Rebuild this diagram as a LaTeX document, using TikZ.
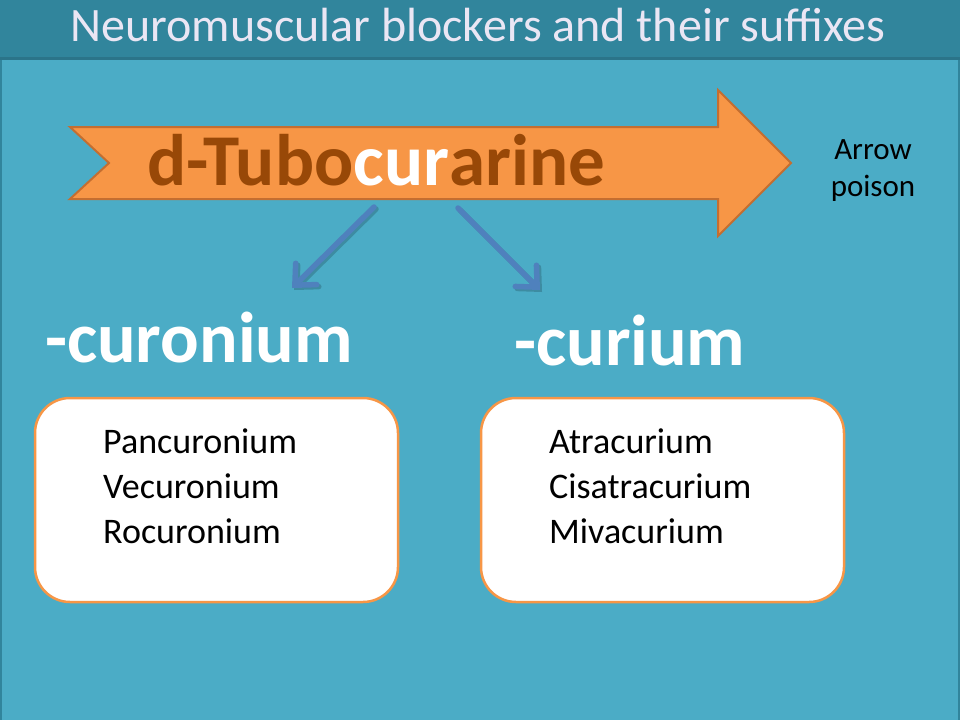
\documentclass[tikz,border=0pt]{standalone}
\usepackage{fontspec}
\setmainfont{Carlito}
\usetikzlibrary{arrows.meta}
\definecolor{titlebar}{RGB}{49,133,156}
\definecolor{slidebg}{RGB}{75,172,198}
\definecolor{titletext}{RGB}{234,230,244}
\definecolor{arrowfill}{RGB}{247,150,70}
\definecolor{arrowline}{RGB}{196,110,48}
\definecolor{brown}{RGB}{152,72,7}
\definecolor{linkblue}{RGB}{79,129,189}
\tikzset{
  bigword/.style={font=\fontsize{73}{80}\selectfont\bfseries, inner sep=0pt, anchor=base west},
  listtext/.style={font=\fontsize{36}{45}\selectfont, inner sep=0pt, anchor=base west, align=left},
  listbox/.style={draw=arrowfill, line width=2.5pt, fill=white, rounded corners=35pt},
  link/.style={draw=linkblue, line width=5.5pt, line cap=round, line join=round,
    -{Straight Barb[length=16pt,width=30pt,line cap=round]}},
  linkshadow/.style={link, draw=black, opacity=0.18},
}
\begin{document}
\begin{tikzpicture}[x=1pt,y=-1pt]
\useasboundingbox (0,0) rectangle (960,720);
% background
\fill[titlebar] (0,0) rectangle (960,720);
\fill[slidebg] (2,60) rectangle (958,720);
\fill[black,opacity=0.12] (0,57) rectangle (960,60);
% title
\node[font=\fontsize{48}{52}\selectfont, text=titletext, inner sep=0pt, anchor=base] (title) at (478,41) {Neuromuscular blockers and their suffixes};
% big notched arrow
\draw[fill=arrowfill, draw=arrowline, line width=2pt, line join=miter]
  (70,127) -- (718,127) -- (718,90) -- (791,163) -- (718,236) -- (718,199) -- (70,199) -- (109,163) -- cycle;
\node[bigword, text=brown] (parent) at (147,185) {d-Tubo{\color{white}cur}arine};
% arrow poison
\node[font=\fontsize{31}{37}\selectfont, align=center, inner sep=0pt] (poison) at (873,171) {Arrow\\poison};
% connectors
\coordinate (s1) at (374,207);
\coordinate (e1) at (292,288);
\coordinate (s2) at (458,208);
\coordinate (e2) at (540,290);
\draw[linkshadow] ([shift={(2,2)}]s1) -- ([shift={(2,2)}]e1);
\draw[linkshadow] ([shift={(2,2)}]s2) -- ([shift={(2,2)}]e2);
\draw[link] (s1) -- (e1);
\draw[link] (s2) -- (e2);
% suffix headings
\node[bigword, font=\fontsize{72}{80}\selectfont\bfseries, text=white] (suf1) at (45,362) {-curonium};
\node[bigword, font=\fontsize{72}{80}\selectfont\bfseries, text=white] (suf2) at (514,365) {-curium};
% boxes
\draw[listbox] (35,398) rectangle (398,602);
\node[inner sep=0pt, minimum width=363pt, minimum height=204pt] (box1) at (216.5,500) {};
\draw[listbox] (481,398) rectangle (844,602);
\node[inner sep=0pt, minimum width=363pt, minimum height=204pt] (box2) at (662.5,500) {};
\node[listtext] (l1a) at (103,453) {Pancuronium};
\node[listtext] (l1b) at (103,498) {Vecuronium};
\node[listtext] (l1c) at (103,543) {Rocuronium};
\node[listtext] (l2a) at (549,453) {Atracurium};
\node[listtext] (l2b) at (549,498) {Cisatracurium};
\node[listtext] (l2c) at (549,543) {Mivacurium};
\end{tikzpicture}
\end{document}
